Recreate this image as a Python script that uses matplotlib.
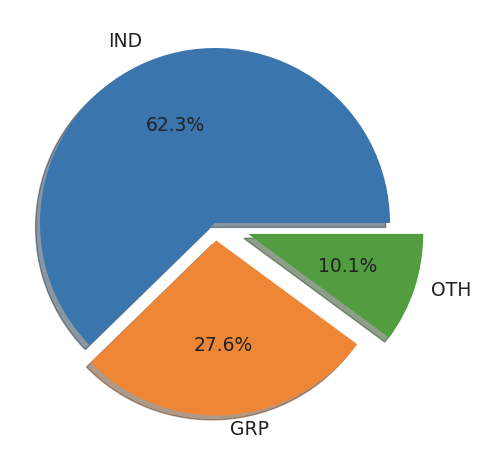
import matplotlib
matplotlib.use("Agg")
import matplotlib.pyplot as plt
from matplotlib.transforms import ScaledTranslation

categories = ["IND", "GRP", "OTH"]
values = [62.3, 27.6, 10.1]
explode = [0, 0.1, 0.2]
colors = ["#3a75ae", "#ef8636", "#529d3f"]

fig = plt.figure(figsize=(4.9, 4.58), dpi=100)
ax = fig.add_axes([0, 0, 1, 1])
wedges, texts, autotexts = ax.pie(
    values, labels=categories, explode=explode, colors=colors,
    autopct="%1.1f%%", shadow={"ox": -0.018, "oy": -0.018, "shade": 0.6},
    startangle=0, textprops={"fontsize": 13.5, "color": "#222222"})
ax.set_aspect("equal")
# slight upward nudge of outer labels (older text centring)
for t in texts:
    t.set_transform(t.get_transform() + ScaledTranslation(0, 3 / 100, fig.dpi_scale_trans))
# place axes so the pie radius is ~175 px, centred at (215, 223) px from top-left
size_px = 175 * 2.5
cx, cy = 215 / 490, (458 - 223) / 458
w, h = size_px / 490, size_px / 458
ax.set_position([cx - w / 2, cy - h / 2, w, h])
fig.savefig("out.png", dpi=100)
